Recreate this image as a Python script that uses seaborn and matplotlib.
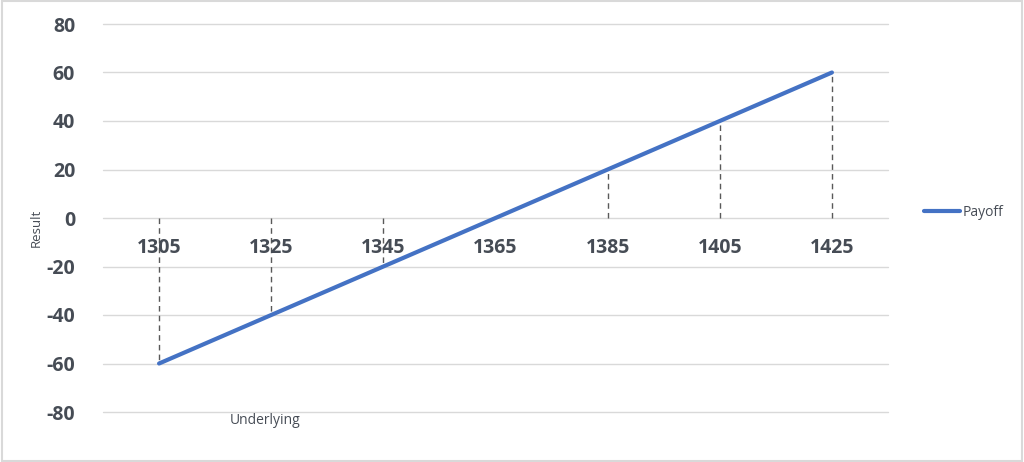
import matplotlib
matplotlib.use("Agg")
import matplotlib.pyplot as plt
import seaborn as sns
import pandas as pd
from matplotlib.patches import Rectangle

# data
underlying = ["1305", "1325", "1345", "1365", "1385", "1405", "1425"]
payoff = [-60, -40, -20, 0, 20, 40, 60]
y_ticks = [-80, -60, -40, -20, 0, 20, 40, 60, 80]

df = pd.DataFrame({"Underlying": underlying, "Payoff": payoff})
df["pos"] = range(len(df))

sns.set_style("white")
plt.rcParams["font.family"] = ["Open Sans", "DejaVu Sans"]

fig = plt.figure(figsize=(10.24, 4.62), dpi=100)
ax = fig.add_axes([103 / 1024, 1 - 412 / 462, 785 / 1024, 388 / 462])

txt = "#464c55"

# gridlines
for yv in y_ticks:
    ax.axhline(yv, color="#d9d9d9", lw=1, zorder=0, clip_on=False)

# drop lines to the category axis
ax.vlines(df["pos"], 0, df["Payoff"], colors="#595959", linestyles=(0, (4, 3)), lw=1, zorder=1)

sns.lineplot(data=df, x="pos", y="Payoff", ax=ax, color="#4472C4", lw=3,
             label="Payoff", zorder=3)

ax.set_xlim(-0.5, len(df) - 0.5)
ax.set_ylim(-80, 80)
ax.set_yticks(y_ticks)
ax.set_yticklabels([str(v) for v in y_ticks], fontsize=14, fontweight="bold", color=txt)
ax.tick_params(axis="y", length=0, pad=20)

# category labels sit below the zero line
ax.set_xticks([])
for i, lab in enumerate(df["Underlying"]):
    ax.text(i, -12.5, lab, ha="center", va="center", fontsize=14,
            fontweight="bold", color=txt, zorder=2)

for s in ax.spines.values():
    s.set_visible(False)

ax.set_xlabel("")
ax.set_ylabel("")
fig.text(36 / 1024, 1 - 228 / 462, "Result", rotation=90, ha="center", va="center",
         fontsize=9.5, color=txt)
fig.text(265 / 1024, 1 - 420 / 462, "Underlying", ha="center", va="center",
         fontsize=10, color=txt)

leg = ax.legend(loc="center left", bbox_to_anchor=(1.03, 0.515), frameon=False,
                fontsize=10, handlelength=2.6, handletextpad=0.15)
for t in leg.get_texts():
    t.set_color(txt)

# light frame around the whole chart
fig.patches.append(Rectangle((0.002, 0.003), 0.996, 0.994, transform=fig.transFigure,
                             fill=False, edgecolor="#d9d9d9", lw=1.5))

fig.savefig("out.png", dpi=100)
